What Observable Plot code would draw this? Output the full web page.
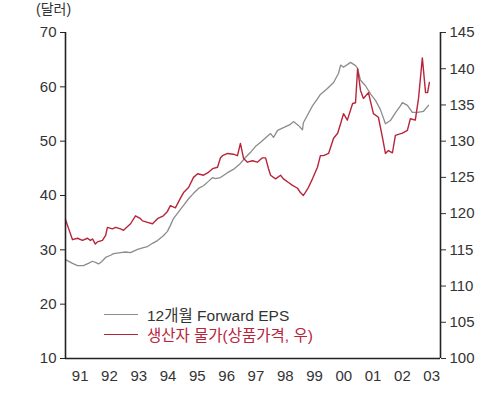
<!DOCTYPE html>
<html>
<head>
<meta charset="utf-8">
<script src="https://cdn.jsdelivr.net/npm/d3@7"></script>
<script src="https://cdn.jsdelivr.net/npm/@observablehq/plot@0.6"></script>
<style>
  html, body { margin: 0; padding: 0; background: #fff; }
  #wrap { position: relative; width: 500px; height: 396px; font-family: "Liberation Sans", "Noto Sans CJK KR", sans-serif; }
  #unit { position: absolute; left: 36px; top: -2px; font-size: 14px; color: #333; }
  .leg { position: absolute; left: 104px; display: flex; align-items: center; font-size: 15.5px; white-space: nowrap; }
  .leg span.sw { display: inline-block; width: 34px; height: 0; margin-right: 9px; }
</style>
</head>
<body>
<div id="wrap">
  <div id="unit">(달러)</div>
</div>
<script>
// 12개월 Forward EPS (left axis, dollars)
const epsYears = [1991.00,1991.24,1991.41,1991.61,1991.78,1991.92,1992.06,1992.13,1992.23,1992.37,1992.54,1992.64,1992.88,1993.05,1993.22,1993.46,1993.66,1993.80,1993.97,1994.14,1994.34,1994.48,1994.58,1994.69,1994.86,1995.03,1995.20,1995.37,1995.54,1995.71,1995.88,1996.02,1996.12,1996.29,1996.53,1996.73,1996.97,1997.14,1997.31,1997.48,1997.66,1997.89,1998.00,1998.10,1998.24,1998.44,1998.68,1998.78,1998.95,1999.09,1999.12,1999.29,1999.43,1999.60,1999.70,1999.94,2000.15,2000.32,2000.39,2000.49,2000.73,2000.90,2000.97,2001.07,2001.24,2001.41,2001.58,2001.75,2001.92,2002.09,2002.26,2002.43,2002.50,2002.67,2002.84,2003.01,2003.22,2003.39];
const epsValues = [28.2,27.5,27.1,27.1,27.5,27.9,27.6,27.4,27.8,28.6,29.0,29.3,29.5,29.6,29.5,30.1,30.4,30.6,31.2,31.7,32.6,33.4,34.5,35.8,37.0,38.2,39.4,40.4,41.3,41.8,42.6,43.3,43.1,43.3,44.2,44.8,45.9,47.0,47.9,49.0,49.8,50.9,51.4,50.7,52.0,52.5,53.1,53.6,52.9,52.1,53.4,55.1,56.5,57.8,58.6,59.7,60.8,62.5,64.0,63.6,64.5,63.9,63.4,61.2,60.2,58.7,57.5,55.8,53.2,53.8,55.2,56.5,57.1,56.6,55.3,55.3,55.5,56.6];

// 생산자 물가 (상품가격, right axis)
const ppiYears = [1991.00,1991.10,1991.24,1991.41,1991.58,1991.75,1991.85,1991.92,1992.02,1992.09,1992.26,1992.37,1992.43,1992.60,1992.71,1992.88,1992.98,1993.22,1993.39,1993.56,1993.63,1993.80,1993.97,1994.14,1994.34,1994.48,1994.58,1994.75,1994.92,1995.03,1995.20,1995.37,1995.51,1995.71,1995.88,1996.02,1996.19,1996.29,1996.36,1996.53,1996.73,1996.87,1996.97,1997.08,1997.21,1997.38,1997.55,1997.72,1997.83,1997.93,1998.00,1998.17,1998.34,1998.44,1998.61,1998.75,1998.92,1999.02,1999.12,1999.29,1999.43,1999.60,1999.70,1999.81,1999.98,2000.15,2000.29,2000.39,2000.49,2000.62,2000.80,2000.90,2000.97,2001.07,2001.17,2001.34,2001.51,2001.68,2001.82,2001.92,2002.02,2002.16,2002.26,2002.50,2002.67,2002.77,2002.94,2003.05,2003.18,2003.29,2003.36,2003.42];
const ppiValues = [119.2,118.0,116.4,116.6,116.3,116.6,116.3,116.5,115.8,116.1,116.3,117.0,118.1,117.9,118.1,117.9,117.7,118.6,119.7,119.3,119.0,118.8,118.6,119.3,119.7,120.3,121.1,120.8,122.1,122.9,123.6,125.0,125.5,125.3,125.7,126.2,126.4,127.7,128.0,128.3,128.2,128.0,129.7,127.6,127.1,127.3,127.1,127.7,127.7,126.2,125.3,124.8,125.3,124.8,124.3,123.9,123.5,122.9,122.5,123.6,124.8,126.4,128.0,128.0,128.3,130.4,131.1,132.4,133.8,132.9,135.2,135.3,140.0,137.0,135.9,136.7,133.8,133.3,130.5,128.3,128.7,128.4,130.8,131.1,131.5,133.1,132.9,135.9,141.5,136.7,136.7,138.1];

const leftTicks = [10, 20, 30, 40, 50, 60, 70];
const rightTicks = [100, 105, 110, 115, 120, 125, 130, 135, 140, 145];
const yearLabels = ["91","92","93","94","95","96","97","98","99","00","01","02","03"];
const yearTickPos = yearLabels.map((_, i) => 1991.5 + i);
const xDomain = [1991, 2003.8];
const legendLabels = ["12개월 Forward EPS", "생산자 물가(상품가격, 우)"];
const colors = { eps: "#8c8c8c", ppi: "#b8243a" };

// map right-axis values onto left-axis scale: 100 -> 10, 145 -> 70
const toLeft = v => 10 + (v - 100) * (60 / 45);
const fromLeft = v => 100 + (v - 10) * (45 / 60);

const eps = epsYears.map((t, i) => ({ t, v: epsValues[i] }));
const ppi = ppiYears.map((t, i) => ({ t, v: toLeft(ppiValues[i]) }));

const chart = Plot.plot({
  width: 500,
  height: 396,
  marginTop: 32,
  marginBottom: 38,
  marginLeft: 65,
  marginRight: 60,
  style: { fontFamily: "'Liberation Sans', 'Noto Sans CJK KR', sans-serif", fontSize: "15px", color: "#333", background: "transparent" },
  x: { domain: xDomain },
  y: { domain: [10, 70] },
  marks: [
    Plot.axisY(leftTicks, { anchor: "left", tickSize: 5, tickPadding: 4, label: null, fontSize: 15, stroke: "#222" }),
    Plot.axisY(rightTicks.map(toLeft), { anchor: "right", tickSize: 5, tickPadding: 4, label: null, fontSize: 15, tickFormat: d => String(Math.round(fromLeft(d))) }),
    Plot.axisX(yearTickPos, { anchor: "bottom", tickSize: 0, tickPadding: 12, label: null, fontSize: 15, tickFormat: (d) => yearLabels[Math.round(d - 1991.5)] }),
    Plot.line(eps, { x: "t", y: "v", stroke: colors.eps, strokeWidth: 1.3 }),
    Plot.line(ppi, { x: "t", y: "v", stroke: colors.ppi, strokeWidth: 1.4 }),
    Plot.ruleX([xDomain[0]], { stroke: "#222", strokeWidth: 1.6 }),
    Plot.ruleX([xDomain[1]], { stroke: "#222", strokeWidth: 1.6 }),
    Plot.ruleY([10], { stroke: "#222", strokeWidth: 1.6 })
  ]
});
const wrap = document.getElementById("wrap");
wrap.appendChild(chart);

// legend
const legTops = [303, 323];
[["eps", "#333"], ["ppi", "#b8243a"]].forEach(([k, tc], i) => {
  const d = document.createElement("div");
  d.className = "leg";
  d.style.top = legTops[i] + "px";
  d.style.color = tc;
  const sw = document.createElement("span");
  sw.className = "sw";
  sw.style.borderTop = (k === "eps" ? "1.3px" : "1.6px") + " solid " + colors[k];
  d.appendChild(sw);
  const tx = document.createElement("span");
  tx.textContent = legendLabels[i];
  d.appendChild(tx);
  wrap.appendChild(d);
});
</script>
</body>
</html>
